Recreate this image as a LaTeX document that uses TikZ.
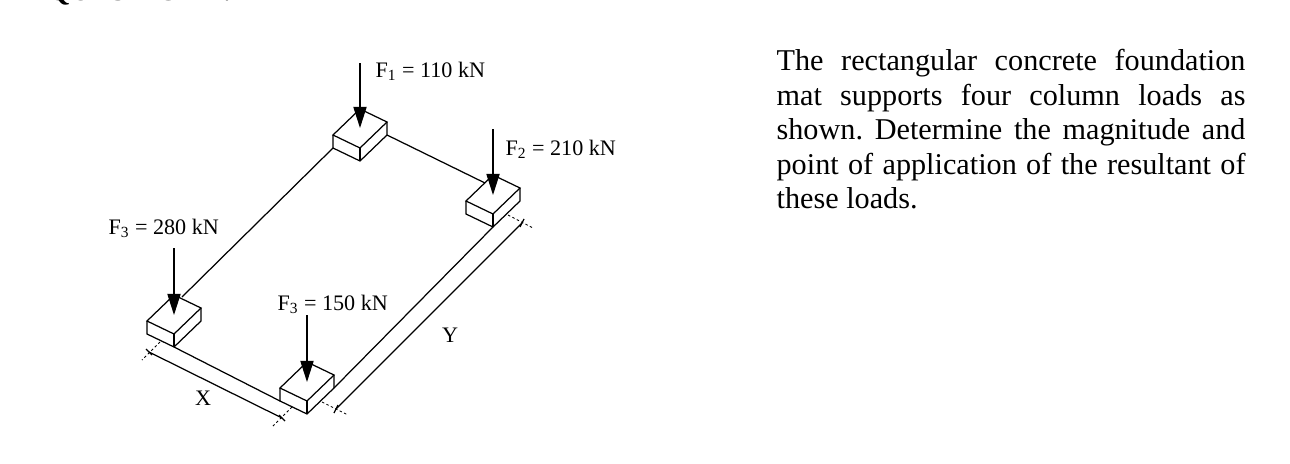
\documentclass[tikz,border=0pt]{standalone}
\usepackage{fontspec}
\setmainfont{Liberation Serif}
\usetikzlibrary{arrows.meta}

\begin{document}
\begin{tikzpicture}[x=0.02cm, y=-0.02cm, every path/.style={draw=black, line width=0.7pt},
	label/.style={draw=none, font=\fontsize{12.6}{14}\selectfont, inner sep=0pt},
	load/.style={-{Triangle[length=12pt, width=7.5pt]}},
	dim/.style={line width=0.5pt, dash pattern=on 1.4pt off 1.4pt}]
			\path[draw=none, use as bounding box] (0,0) rectangle (1290,463);
			\node[draw=none, anchor=base west, inner sep=0pt, font=\bfseries\fontsize{16.5}{18}\selectfont] (title) at (47,1) {QUESTION 1:};

			% blocks: top corner and height
			\foreach \b/\x/\y in {a/360/109, b/493/175, c/174/295, d/307/362}{
				\coordinate (\b t) at (\x,\y);
				\coordinate (\b r) at (\x+27,\y+13);
				\coordinate (\b f) at (\x,\y+39);
				\coordinate (\b l) at (\x-27,\y+26);
				\coordinate (\b R) at (\x+27,\y+26);
				\coordinate (\b F) at (\x,\y+52);
				\coordinate (\b L) at (\x-27,\y+39);
				\draw (\b t) -- (\b r) -- (\b f) -- (\b l) -- cycle;
				\draw (\b l) -- (\b L) -- (\b F) -- (\b R) -- (\b r);
				\draw (\b f) -- (\b F);
			}

			% mat edges
			\coordinate (ae) at (182,297);
			\coordinate (be) at (485,183);
			\draw (aL) -- (ae);
			\draw (aR) -- (be);
			\draw (cF) -- (dL);
			\draw (dR) -- (bF);

			% loads
			\coordinate (a0) at (360,63);
			\coordinate (b0) at (493,129);
			\coordinate (c0) at (174,248);
			\coordinate (d0) at (307,315);
			\coordinate (a1) at (360,128);
			\coordinate (b1) at (493,195);
			\coordinate (c1) at (174,315);
			\coordinate (d1) at (307,382);
			\foreach \b in {a,b,c,d}
				\draw[load] (\b0) -- (\b1);

			\node[label, anchor=west] (fa) at (375,71) {F\textsubscript{1} = 110 kN};
			\node[label, anchor=west] (fb) at (505,149) {F\textsubscript{2} = 210 kN};
			\node[label, anchor=west] (fc) at (108,228) {F\textsubscript{3} = 280 kN};
			\node[label, anchor=west] (fd) at (277,304) {F\textsubscript{3} = 150 kN};

			% dimension lines
			\coordinate (x0) at (149,352);
			\coordinate (x1) at (282,418);
			\coordinate (y0) at (336,409);
			\coordinate (y1) at (522,223);
			\draw (x0) -- (x1);
			\draw (y0) -- (y1);
			\coordinate (p1) at (160,342);
			\coordinate (p2) at (142,360);
			\coordinate (p3) at (292,407);
			\coordinate (p4) at (273,426);
			\coordinate (p5) at (322,402);
			\coordinate (p6) at (348,415);
			\coordinate (p7) at (508,215);
			\coordinate (p8) at (533,228);
			\draw[dim] (p1) -- (p2);
			\draw[dim] (p3) -- (p4);
			\draw[dim] (p5) -- (p6);
			\draw[dim] (p7) -- (p8);
			\draw ([shift={(-3,-3)}]x0) -- ([shift={(3,3)}]x0);
			\draw ([shift={(-3,-3)}]x1) -- ([shift={(3,3)}]x1);
			\draw ([shift={(-2,4)}]y0) -- ([shift={(2,-4)}]y0);
			\draw ([shift={(-2,4)}]y1) -- ([shift={(2,-4)}]y1);

			\node[label] (xl) at (203,398) {X};
			\node[label] (yl) at (450,335) {Y};

			\node[draw=none, anchor=north west, inner sep=0pt, text width=9.38cm, align=justify,
				font=\fontsize{17.2}{19.6}\selectfont] (text) at (776,49)
				{\frenchspacing The rectangular concrete foundation\linebreak[4]
				mat supports four column loads as\linebreak[4]
				shown. Determine the magnitude and\linebreak[4]
				point of application of the resultant of\linebreak[4]
				these loads.};
			\end{tikzpicture}
\end{document}
